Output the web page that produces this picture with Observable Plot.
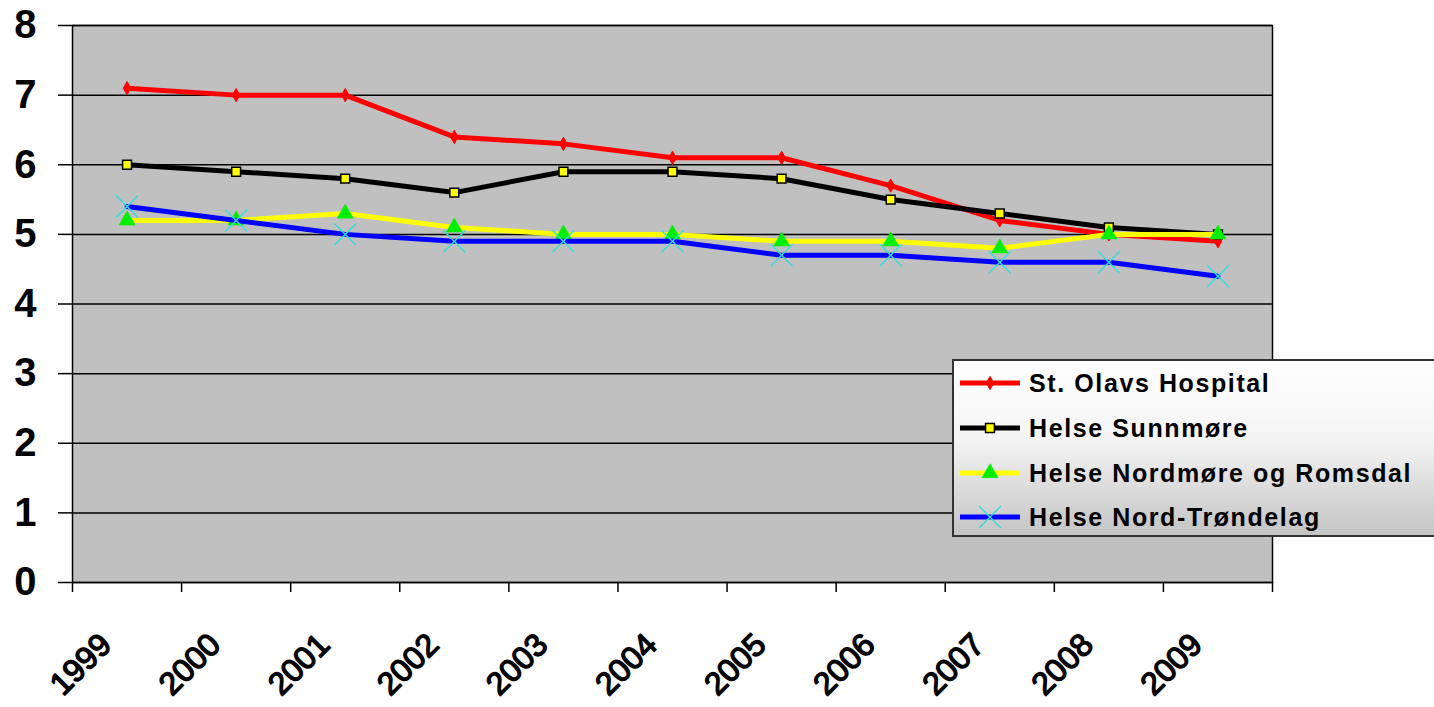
<!DOCTYPE html>
<html><head><meta charset="utf-8">
<script src="https://cdn.jsdelivr.net/npm/d3@7"></script>
<script src="https://cdn.jsdelivr.net/npm/@observablehq/plot@0.6"></script>
<style>
body{margin:0;background:#fff;}
#wrap{position:relative;width:1434px;height:707px;overflow:hidden;}
#legend{position:absolute;left:952px;top:359px;width:520px;height:178px;box-sizing:border-box;border:2px solid #333;background:linear-gradient(#ffffff 0%, #f4f4f4 45%, #c4c4c4 100%);}
.row{position:absolute;left:0;height:40px;display:flex;align-items:center;}
.row span{font-family:"Liberation Sans",Arial,sans-serif;font-weight:bold;font-size:25px;letter-spacing:1.6px;color:#000;white-space:nowrap;margin-left:5px;}
</style></head><body><div id="wrap"></div>
<script>
const years = [1999, 2000, 2001, 2002, 2003, 2004, 2005, 2006, 2007, 2008, 2009];
const stOlavs = [7.1, 7.0, 7.0, 6.4, 6.3, 6.1, 6.1, 5.7, 5.2, 5.0, 4.9];
const sunnmore = [6.0, 5.9, 5.8, 5.6, 5.9, 5.9, 5.8, 5.5, 5.3, 5.1, 5.0];
const nordmore = [5.2, 5.2, 5.3, 5.1, 5.0, 5.0, 4.9, 4.9, 4.8, 5.0, 5.0];
const nordTrondelag = [5.4, 5.2, 5.0, 4.9, 4.9, 4.9, 4.7, 4.7, 4.6, 4.6, 4.4];
const seriesNames = ["St. Olavs Hospital", "Helse Sunnmøre", "Helse Nordmøre og Romsdal", "Helse Nord-Trøndelag"];
const yTicks = [0, 1, 2, 3, 4, 5, 6, 7, 8];
const boundaries = [1998.5, 1999.5, 2000.5, 2001.5, 2002.5, 2003.5, 2004.5, 2005.5, 2006.5, 2007.5, 2008.5, 2009.5];

const styles = [
  {line: "#ff0000", symbol: "diamond", r: 4, fill: "#ff0000", mstroke: "#ff0000", msw: 1},
  {line: "#000000", symbol: "square", r: 5, fill: "#ffff00", mstroke: "#000000", msw: 1.5},
  {line: "#ffff00", symbol: "triangle", r: 6, fill: "#00ee00", mstroke: "#00ee00", msw: 0.5},
  {line: "#0000ff", symbol: "times", r: 10, fill: "none", mstroke: "#33dddd", msw: 1.4}
];
const values = [stOlavs, sunnmore, nordmore, nordTrondelag];
const series = values.map((vals, i) => years.map((y, j) => ({year: y, value: vals[j], name: seriesNames[i]})));

const font = "Liberation Sans, Arial, sans-serif";
const seriesMarks = series.flatMap((data, i) => {
  const s = styles[i];
  return [
    Plot.line(data, {x: "year", y: "value", stroke: s.line, strokeWidth: 5, strokeLinejoin: "round"}),
    Plot.dot(data, {x: "year", y: "value", symbol: () => s.symbol, r: s.r, fill: s.fill, stroke: s.mstroke, strokeWidth: s.msw})
  ];
});

const chart = Plot.plot({
  width: 1434, height: 707,
  marginLeft: 72, marginRight: 162, marginTop: 25, marginBottom: 125,
  x: {domain: [1998.5, 2009.5]},
  y: {domain: [0, 8]},
  symbol: {type: "identity"},
  style: {fontFamily: font, background: "transparent", overflow: "visible"},
  marks: [
    Plot.frame({fill: "#c0c0c0"}),
    Plot.gridY(yTicks, {stroke: "#000", strokeOpacity: 1, strokeWidth: 1.5}),
    Plot.frame({stroke: "#000", strokeWidth: 1.5}),
    Plot.axisY(yTicks, {tickSize: 14, tickPadding: 22, tickFormat: d3.format("d"), fontSize: 40, fontWeight: "bold", stroke: "#000", strokeWidth: 1.5, fill: "#000", label: null}),
    Plot.axisX(boundaries, {tickSize: 10, tickFormat: () => "", stroke: "#000", strokeWidth: 1.5, label: null}),
    Plot.text(years, {x: d => d, text: d => String(d), frameAnchor: "bottom", rotate: -45, textAnchor: "end", lineAnchor: "middle", dx: -21, dy: 57, fontSize: 32, fontWeight: "normal", fill: "#000", stroke: "#000", strokeWidth: 1.4}),
    ...seriesMarks
  ]
});
const wrap = document.getElementById("wrap");
wrap.appendChild(chart);

// legend
const legend = document.createElement("div");
legend.id = "legend";
wrap.appendChild(legend);
const rowTops = [2, 47, 92, 136];
seriesNames.forEach((name, i) => {
  const s = styles[i];
  const row = document.createElement("div");
  row.className = "row";
  row.style.top = rowTops[i] + "px";
  const svg = d3.create("svg").attr("width", 70).attr("height", 40);
  svg.append("line").attr("x1", 6).attr("x2", 66).attr("y1", 20).attr("y2", 20).attr("stroke", s.line).attr("stroke-width", 5);
  const sym = {diamond: d3.symbolDiamond, square: d3.symbolSquare, triangle: d3.symbolTriangle, times: d3.symbolTimes}[s.symbol];
  svg.append("path").attr("transform", "translate(36,20)").attr("d", d3.symbol(sym, Math.PI * s.r * s.r)())
    .attr("fill", s.fill).attr("stroke", s.mstroke).attr("stroke-width", s.msw);
  row.appendChild(svg.node());
  const span = document.createElement("span");
  span.textContent = name;
  row.appendChild(span);
  legend.appendChild(row);
});
</script></body></html>
